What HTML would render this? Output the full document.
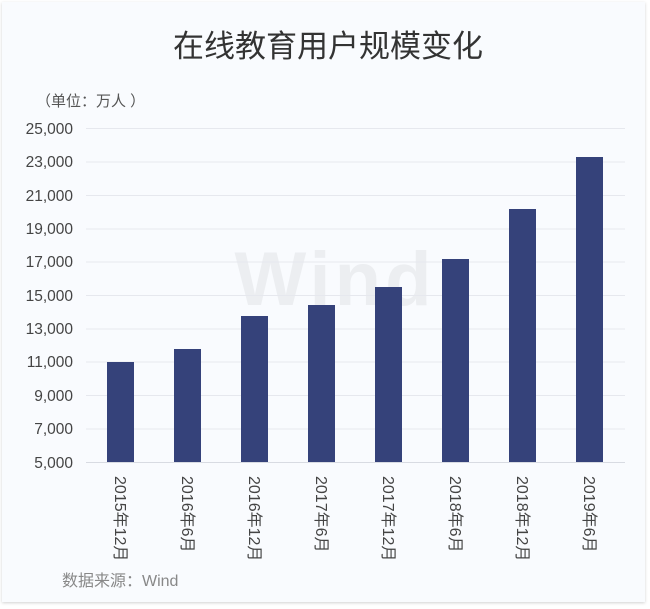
<!DOCTYPE html>
<html><head><meta charset="utf-8"><style>
body{margin:0;background:#fff;}
.card{position:absolute;left:2px;top:2px;width:643px;height:600px;background:#f9fbfe;box-shadow:0 1px 3px rgba(0,0,0,.18);}
text{font-family:"Liberation Sans","Noto Sans CJK SC",sans-serif;}
</style></head><body>
<div class="card"></div>
<svg width="650" height="609" style="position:absolute;left:0;top:0">
<text x="328" y="57" font-size="31" fill="#333" text-anchor="middle">在线教育用户规模变化</text>
<text x="36" y="106" font-size="15" fill="#555">（单位：万人 ）</text>
<text x="335" y="305" font-size="76" font-weight="bold" fill="#eceef1" text-anchor="middle" letter-spacing="4">Wind</text>
<g stroke="#e6e8ee" stroke-width="1">
<line x1="86" x2="625" y1="128.5" y2="128.5"/><line x1="86" x2="625" y1="162" y2="162"/>
<line x1="86" x2="625" y1="195.5" y2="195.5"/><line x1="86" x2="625" y1="229" y2="229"/>
<line x1="86" x2="625" y1="262" y2="262"/><line x1="86" x2="625" y1="295.5" y2="295.5"/>
<line x1="86" x2="625" y1="329" y2="329"/><line x1="86" x2="625" y1="362" y2="362"/>
<line x1="86" x2="625" y1="395.5" y2="395.5"/><line x1="86" x2="625" y1="429" y2="429"/>
</g>
<line x1="86" x2="625" y1="462.5" y2="462.5" stroke="#d8dbe2"/>
<g font-size="15.5" fill="#444" text-anchor="end">
<text x="73" y="134">25,000</text><text x="73" y="167">23,000</text><text x="73" y="201">21,000</text>
<text x="73" y="234">19,000</text><text x="73" y="267">17,000</text><text x="73" y="301">15,000</text>
<text x="73" y="334">13,000</text><text x="73" y="367">11,000</text><text x="73" y="401">9,000</text>
<text x="73" y="434">7,000</text><text x="73" y="468">5,000</text>
</g>
<g fill="#35427a">
<rect x="107" y="362" width="27" height="100"/>
<rect x="174" y="349" width="27" height="113"/>
<rect x="241" y="316" width="27" height="146"/>
<rect x="308" y="305" width="27" height="157"/>
<rect x="375" y="287" width="27" height="175"/>
<rect x="442" y="259" width="27" height="203"/>
<rect x="509" y="209" width="27" height="253"/>
<rect x="576" y="157" width="27" height="305"/>
</g>
<g font-size="16" fill="#444">
<text transform="translate(115,476) rotate(90)">2015年12月</text>
<text transform="translate(182,476) rotate(90)">2016年6月</text>
<text transform="translate(249,476) rotate(90)">2016年12月</text>
<text transform="translate(316,476) rotate(90)">2017年6月</text>
<text transform="translate(383,476) rotate(90)">2017年12月</text>
<text transform="translate(450,476) rotate(90)">2018年6月</text>
<text transform="translate(517,476) rotate(90)">2018年12月</text>
<text transform="translate(584,476) rotate(90)">2019年6月</text>
</g>
<text x="62" y="586" font-size="16" fill="#888">数据来源：Wind</text>
</svg>
</body></html>
